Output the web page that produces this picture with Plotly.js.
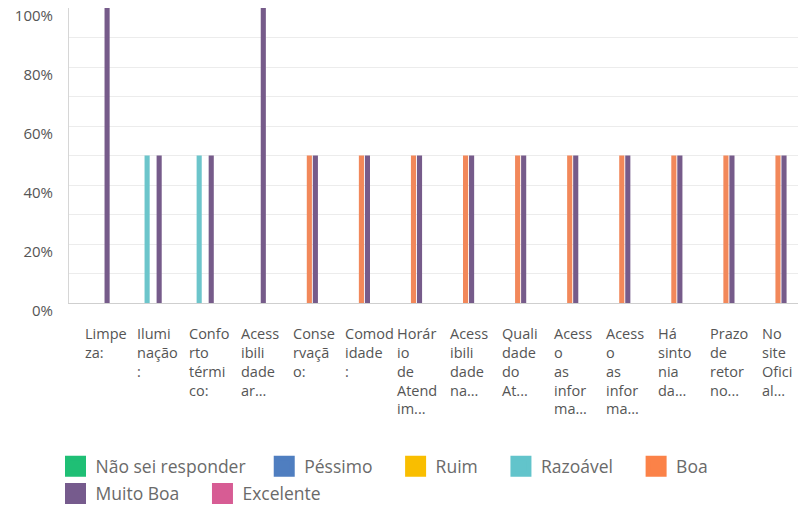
<!DOCTYPE html>
<html><head><meta charset="utf-8">
<script src="https://cdn.plot.ly/plotly-3.0.1.min.js"></script>
<style>html,body{margin:0;padding:0;background:#fff}</style>
</head><body><div id="chart" style="width:800px;height:508px"></div>
<script>
const categories = [
  "Limpe<br>za:",
  "Ilumi<br>nação<br>:",
  "Confo<br>rto<br>térmi<br>co:",
  "Acess<br>ibili<br>dade<br>ar...",
  "Conse<br>rvaçã<br>o:",
  "Comod<br>idade<br>:",
  "Horár<br>io<br>de<br>Atend<br>im...",
  "Acess<br>ibili<br>dade<br>na...",
  "Quali<br>dade<br>do<br>At...",
  "Acess<br>o<br>as<br>infor<br>ma...",
  "Acess<br>o<br>as<br>infor<br>ma... ",
  "Há<br>sinto<br>nia<br>da...",
  "Prazo<br>de<br>retor<br>no...",
  "No<br>site<br>Ofici<br>al..."
];
const seriesNames = ["Não sei responder","Péssimo","Ruim","Razoável","Boa","Muito Boa","Excelente"];
const naoSeiResponder = [0,0,0,0,0,0,0,0,0,0,0,0,0,0];
const pessimo         = [0,0,0,0,0,0,0,0,0,0,0,0,0,0];
const ruim            = [0,0,0,0,0,0,0,0,0,0,0,0,0,0];
const razoavel        = [0,0.5,0.5,0,0,0,0,0,0,0,0,0,0,0];
const boa             = [0,0,0,0,0.5,0.5,0.5,0.5,0.5,0.5,0.5,0.5,0.5,0.5];
const muitoBoa        = [1,0.5,0.5,1,0.5,0.5,0.5,0.5,0.5,0.5,0.5,0.5,0.5,0.5];
const excelente       = [0,0,0,0,0,0,0,0,0,0,0,0,0,0];
const yTickVals = [0,0.2,0.4,0.6,0.8,1];
const yTickText = ["0%","20%","40%","60%","80%","100%"];
const legendRow = ["legend","legend","legend","legend","legend","legend2","legend2"];

const seriesValues = [naoSeiResponder, pessimo, ruim, razoavel, boa, muitoBoa, excelente];
const barColors = ["#00bf6f","#507cb6","#f9be00","#6cc5cb","#f2885a","#765b8a","#d25f90"];
const legendColors = ["#1fbf75","#4f7ec0","#f9be00","#62c4cb","#fb8248","#765b8d","#d75c94"];
const nb = "\u00a0";

const traces = [];
seriesNames.forEach((name, i) => {
  traces.push({
    type: 'bar', name: name, x: categories, y: seriesValues[i],
    marker: {color: barColors[i]}, showlegend: false, legendgroup: name
  });
});
seriesNames.forEach((name, i) => {
  const pad = nb.repeat(i === 0 ? 3 : 4);
  traces.push({
    type: 'scatter', mode: 'markers', name: name + pad, x: [null], y: [null],
    marker: {symbol: 'square', size: 16, color: legendColors[i], line: {width: 5, color: legendColors[i]}},
    showlegend: true, legend: legendRow[i], legendgroup: name, hoverinfo: 'skip'
  });
});

const annotations = categories.map(c => ({
  x: c, xref: 'x', y: 0, yref: 'paper', yanchor: 'top', xanchor: 'left',
  xshift: -12, yshift: -19, text: c, showarrow: false, align: 'left',
  font: {family: 'Open Sans, sans-serif', size: 14.5, color: '#555'}
}));

const legendBase = {
  orientation: 'h', xanchor: 'left', yanchor: 'top',
  font: {family: 'Open Sans, sans-serif', size: 17.5, color: '#6a6a6a'},
  bgcolor: 'rgba(0,0,0,0)', traceorder: 'normal', itemclick: false
};

const layout = {
  width: 800, height: 508,
  margin: {l: 69, r: 2, t: 8, b: 205, autoexpand: false},
  paper_bgcolor: '#fff', plot_bgcolor: '#fff',
  barmode: 'group', bargap: 0.19, bargroupgap: 0.15,
  font: {family: 'Open Sans, sans-serif', size: 14, color: '#555'},
  xaxis: {
    type: 'category', showticklabels: false, showgrid: false,
    showline: true, linecolor: '#cfcfcf', linewidth: 1, ticks: '', fixedrange: true
  },
  yaxis: {
    range: [0, 1], tickvals: yTickVals, ticktext: yTickText,
    showgrid: true, gridcolor: '#ececec', gridwidth: 1,
    minor: {dtick: 0.1, tick0: 0, showgrid: true, gridcolor: '#ececec', gridwidth: 1},
    showline: true, linecolor: '#d6d6d6', linewidth: 1, zeroline: false,
    ticks: '', ticklabelstandoff: 12, ticklabelshift: 8,
    tickfont: {family: 'Open Sans, sans-serif', size: 15, color: '#555'}
  },
  showlegend: true,
  legend: Object.assign({}, legendBase, {x: -0.0185, y: -0.493}),
  legend2: Object.assign({}, legendBase, {x: -0.0185, y: -0.585}),
  annotations: annotations
};

Plotly.newPlot('chart', traces, layout, {displayModeBar: false, staticPlot: true});
</script>
</body></html>
